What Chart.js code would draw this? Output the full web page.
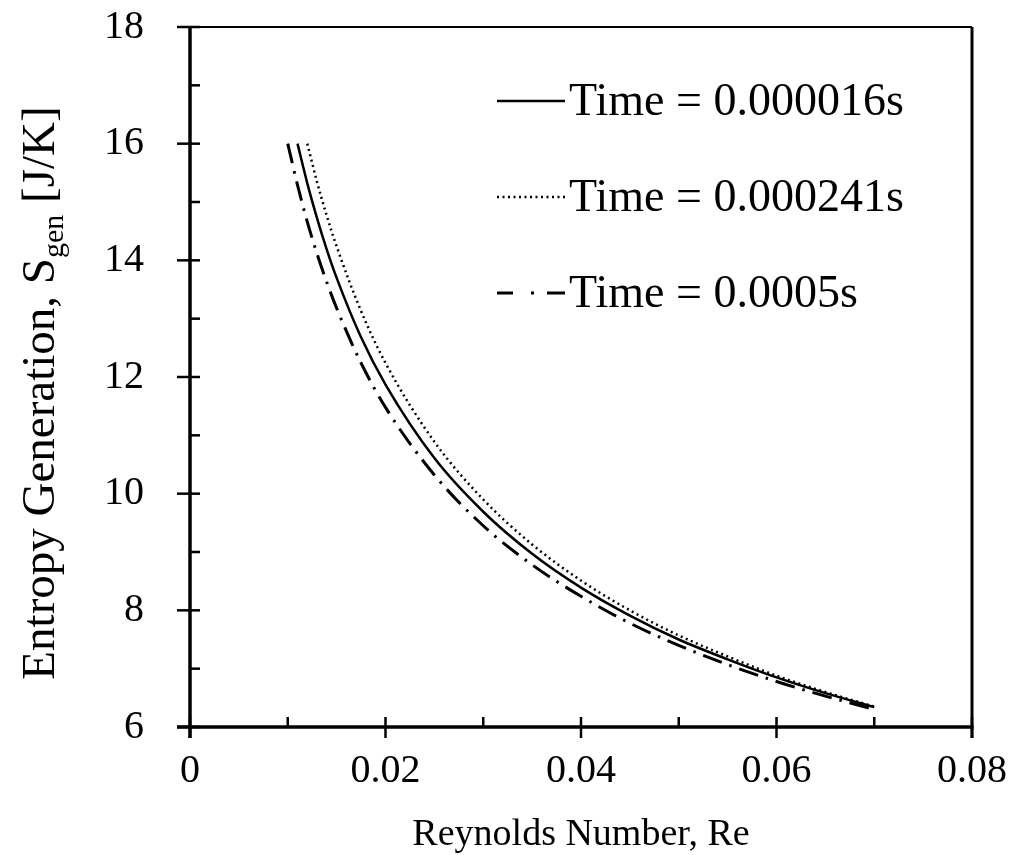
<!DOCTYPE html>
<html>
<head>
<meta charset="utf-8">
<script src="https://cdn.jsdelivr.net/npm/chart.js@4.4.1/dist/chart.umd.min.js"></script>
<style>
  body { margin: 0; background: #fff; }
  #wrap { width: 1013px; height: 855px; }
</style>
</head>
<body>
<div id="wrap"><canvas id="chart" width="1013" height="855"></canvas></div>
<script>
// Entropy generation vs Reynolds number

// Reynolds numbers where the curves were read
var reNumbers = [0.010, 0.011, 0.012, 0.013, 0.014, 0.015, 0.0175, 0.02, 0.025, 0.03,
  0.035, 0.04, 0.045, 0.05, 0.055, 0.06, 0.065, 0.07];

// S_gen [J/K] for each time
var sgenT1 = [null, 16.0, 15.32, 14.72, 14.18, 13.70, 12.68, 11.87, 10.61, 9.69,
  8.97, 8.39, 7.91, 7.50, 7.16, 6.85, 6.58, 6.34];
var sgenT2 = [null, null, 16.0, 15.34, 14.76, 14.24, 13.13, 12.24, 10.89, 9.90,
  9.13, 8.51, 8.00, 7.57, 7.21, 6.88, 6.60, 6.35];
var sgenT3 = [16.0, 15.29, 14.66, 14.11, 13.62, 13.18, 12.24, 11.48, 10.32, 9.45,
  8.78, 8.24, 7.78, 7.40, 7.07, 6.78, 6.53, 6.30];

var seriesLabels = ["Time = 0.000016s", "Time = 0.000241s", "Time = 0.0005s"];

var xTicks = [0, 0.02, 0.04, 0.06, 0.08];
var xMinor = [0.01, 0.03, 0.05, 0.07];
var yTicks = [6, 8, 10, 12, 14, 16, 18];
var yMinor = [7, 9, 11, 13, 15, 17];

var FONT = "'Liberation Serif', 'Times New Roman', serif";

function toPoints(values) {
  return reNumbers.map(function (re, i) { return { x: re, y: values[i] }; });
}

// axes frame, ticks, legend and axis titles
var framePlugin = {
  id: "frame",
  afterDraw: function (chart) {
    var ctx = chart.ctx;
    var a = chart.chartArea;
    var sx = chart.scales.x, sy = chart.scales.y;
    ctx.save();
    ctx.strokeStyle = "#000";
    ctx.lineCap = "butt";
    ctx.setLineDash([]);

    function line(x1, y1, x2, y2, w) {
      ctx.lineWidth = w;
      ctx.beginPath();
      ctx.moveTo(x1, y1);
      ctx.lineTo(x2, y2);
      ctx.stroke();
    }

    // top and right border
    line(a.left - 13, a.top, a.right, a.top, 2);
    line(a.right, a.top, a.right, a.bottom + 11, 3);
    // axes
    line(a.left, a.top, a.left, a.bottom + 11, 3.5);
    line(a.left - 13, a.bottom, a.right + 1.5, a.bottom, 3.5);

    yTicks.forEach(function (v) {
      var p = sy.getPixelForValue(v);
      line(a.left - 13, p, a.left + 10, p, 2.5);
    });
    yMinor.forEach(function (v) {
      var p = sy.getPixelForValue(v);
      line(a.left, p, a.left + 10, p, 2.5);
    });
    xTicks.forEach(function (v) {
      var p = sx.getPixelForValue(v);
      line(p, a.bottom - 10, p, a.bottom + 11, 2.5);
    });
    xMinor.forEach(function (v) {
      var p = sx.getPixelForValue(v);
      line(p, a.bottom - 10, p, a.bottom, 2.5);
    });

    // legend
    var legendDash = [[], [2, 3.5], [16, 18, 3, 13, 20]];
    ctx.fillStyle = "#000";
    ctx.font = "46px " + FONT;
    ctx.textBaseline = "middle";
    chart.data.datasets.forEach(function (ds, i) {
      var ly = 101 + i * 96;
      ctx.setLineDash(legendDash[i]);
      line(497, ly, 565, ly, ds.borderWidth);
      ctx.setLineDash([]);
      ctx.fillText(ds.label, 569, ly + 2);
    });

    // x title
    ctx.font = "38px " + FONT;
    ctx.textAlign = "center";
    ctx.textBaseline = "middle";
    ctx.fillText("Reynolds Number, Re", (a.left + a.right) / 2, 835);

    // y title with subscript
    ctx.translate(38, (a.top + a.bottom) / 2 + 16);
    ctx.rotate(-Math.PI / 2);
    ctx.textAlign = "left";
    ctx.textBaseline = "alphabetic";
    var part1 = "Entropy Generation, S", sub = "gen", part2 = " [J/K]";
    ctx.font = "47px " + FONT;
    var w1 = ctx.measureText(part1).width, w3 = ctx.measureText(part2).width;
    ctx.font = "30px " + FONT;
    var w2 = ctx.measureText(sub).width;
    var x0 = -(w1 + w2 + w3) / 2;
    ctx.font = "47px " + FONT;
    ctx.fillText(part1, x0, 16);
    ctx.font = "30px " + FONT;
    ctx.fillText(sub, x0 + w1, 25);
    ctx.font = "47px " + FONT;
    ctx.fillText(part2, x0 + w1 + w2, 16);
    ctx.restore();
  }
};

function noOverflow(scale) {
  scale.paddingTop = 0;
  scale.paddingBottom = 0;
  scale.paddingLeft = 0;
  scale.paddingRight = 0;
}

var ctx = document.getElementById("chart");

var chart = new Chart(ctx, {
  type: "line",
  data: {
    datasets: [
      {
        label: seriesLabels[0],
        data: toPoints(sgenT1),
        borderColor: "#000",
        borderWidth: 2.5,
        pointRadius: 0,
        cubicInterpolationMode: "monotone",
        fill: false
      },
      {
        label: seriesLabels[1],
        data: toPoints(sgenT2),
        borderColor: "#000",
        borderWidth: 2.5,
        borderDash: [2, 3.5],
        pointRadius: 0,
        cubicInterpolationMode: "monotone",
        fill: false
      },
      {
        label: seriesLabels[2],
        data: toPoints(sgenT3),
        borderColor: "#000",
        borderWidth: 3,
        borderDash: [20, 8, 2.5, 8],
        pointRadius: 0,
        cubicInterpolationMode: "monotone",
        fill: false
      }
    ]
  },
  options: {
    responsive: false,
    animation: false,
    spanGaps: false,
    layout: { padding: { top: 27, right: 41, left: 0, bottom: 0 } },
    plugins: {
      legend: { display: false },
      tooltip: { enabled: false },
      title: { display: false }
    },
    scales: {
      x: {
        type: "linear",
        min: 0,
        max: 0.08,
        afterBuildTicks: function (scale) {
          scale.ticks = xTicks.map(function (v) { return { value: v }; });
        },
        ticks: {
          color: "#000",
          font: { family: FONT, size: 40 },
          padding: 12,
          maxRotation: 0,
          callback: function (v) { return v === 0 ? "0" : v.toFixed(2); }
        },
        grid: { display: false },
        border: { display: false },
        afterFit: function (scale) { scale.height = 128; noOverflow(scale); }
      },
      y: {
        type: "linear",
        min: 6,
        max: 18,
        afterBuildTicks: function (scale) {
          scale.ticks = yTicks.map(function (v) { return { value: v }; });
        },
        ticks: {
          color: "#000",
          font: { family: FONT, size: 40 },
          padding: 38
        },
        grid: { display: false },
        border: { display: false },
        afterFit: function (scale) { scale.width = 190; noOverflow(scale); }
      }
    }
  },
  plugins: [framePlugin]
});
</script>
</body>
</html>
